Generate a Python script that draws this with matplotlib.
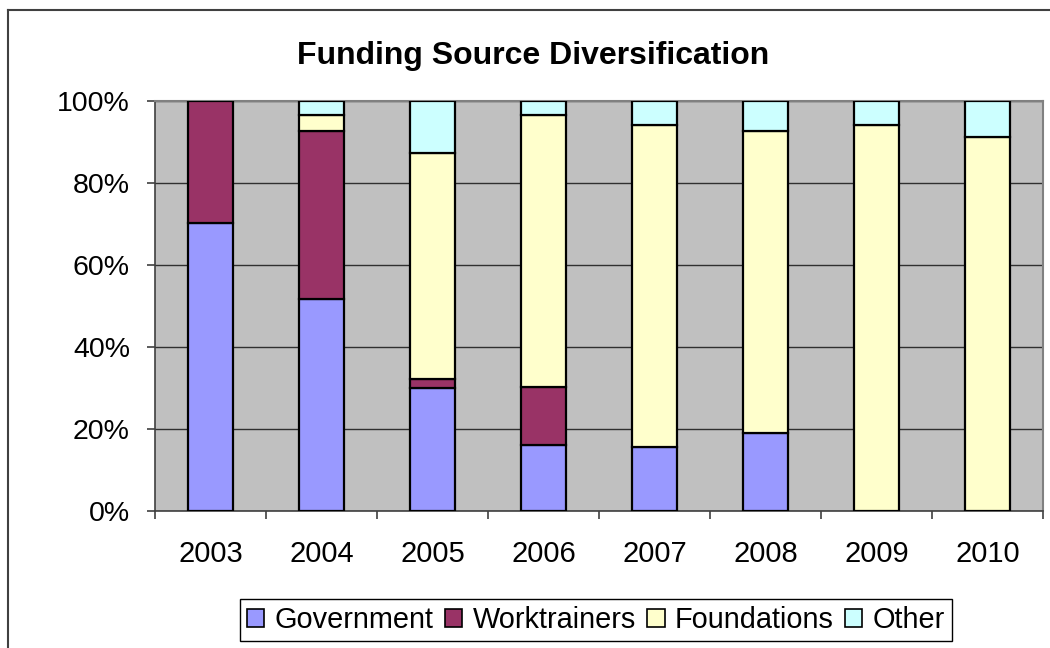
import matplotlib.pyplot as plt
import numpy as np
from matplotlib.lines import Line2D
from matplotlib.ticker import FixedLocator, PercentFormatter

plt.rcParams["font.family"] = ["Liberation Sans", "DejaVu Sans"]

years = ["2003", "2004", "2005", "2006", "2007", "2008", "2009", "2010"]
government = [70.2, 51.6, 30.1, 16.0, 15.5, 19.0, 0.0, 0.0]
worktrainers = [29.8, 41.0, 2.0, 14.2, 0.0, 0.0, 0.0, 0.0]
foundations = [0.0, 3.9, 55.2, 66.3, 78.6, 73.6, 94.1, 91.2]
other = [0.0, 3.5, 12.7, 3.5, 5.9, 7.4, 5.9, 8.8]

series = [
    ("Government", government, "#9999FF"),
    ("Worktrainers", worktrainers, "#993366"),
    ("Foundations", foundations, "#FFFFCC"),
    ("Other", other, "#CCFFFF"),
]

fig = plt.figure(figsize=(10.5, 6.48), dpi=100)
ax = fig.add_axes([155 / 1050, 1 - 511 / 648, 888 / 1050, 410 / 648])
ax.set_facecolor("#C0C0C0")

x = np.arange(len(years))
bottom = np.zeros(len(years))
handles = []
for name, vals, color in series:
    vals = np.array(vals)
    mask = vals > 0
    ax.bar(x[mask], vals[mask], width=0.41, bottom=bottom[mask], color=color,
           edgecolor="black", linewidth=1.6, zorder=3)
    bottom += vals
    handles.append(plt.Rectangle((0, 0), 1, 1, facecolor=color, edgecolor="black", linewidth=1.2))

ax.set_xlim(-0.5, len(years) - 0.5)
ax.set_ylim(0, 100)
ax.set_yticks([0, 20, 40, 60, 80, 100])
ax.yaxis.set_major_formatter(PercentFormatter(decimals=0))
ax.set_xticks(x)
ax.set_xticklabels(years)
ax.xaxis.set_minor_locator(FixedLocator(np.arange(len(years) + 1) - 0.5))
ax.tick_params(axis="x", which="major", length=0, pad=21, labelsize=21)
ax.tick_params(axis="x", which="minor", length=6, width=1.2, color="#404040")
ax.tick_params(axis="y", length=6, width=1.2, color="#404040", pad=12, labelsize=20.5)
ax.grid(axis="y", color="#303030", linewidth=1.0, zorder=1)
ax.set_axisbelow(True)

for side in ["top", "right"]:
    ax.spines[side].set_color("#808080")
    ax.spines[side].set_linewidth(1.5)
for side in ["left", "bottom"]:
    ax.spines[side].set_color("#404040")
    ax.spines[side].set_linewidth(1.2)

fig.text(533 / 1050, 1 - 56 / 648, "Funding Source Diversification", ha="center", va="center",
         fontsize=23, fontweight="bold")

leg = fig.legend(handles, [s[0] for s in series], loc="center right", ncol=4,
                 bbox_to_anchor=(952 / 1050, 1 - 620 / 648), fontsize=20.8,
                 frameon=True, fancybox=False, edgecolor="black", framealpha=1,
                 handlelength=0.6, handleheight=0.6, handletextpad=0.35, columnspacing=0.4,
                 borderpad=0.25, borderaxespad=0)
leg.get_frame().set_linewidth(1.0)

# outer chart border (only left and top are visible in the crop)
fig.add_artist(Line2D([7.5 / 1050, 7.5 / 1050], [0, 1 - 10 / 648], color="#404040",
                      linewidth=1.5, transform=fig.transFigure))
fig.add_artist(Line2D([7.5 / 1050, 1], [1 - 10 / 648, 1 - 10 / 648], color="#404040",
                      linewidth=1.5, transform=fig.transFigure))

fig.savefig("out.png", dpi=100)
